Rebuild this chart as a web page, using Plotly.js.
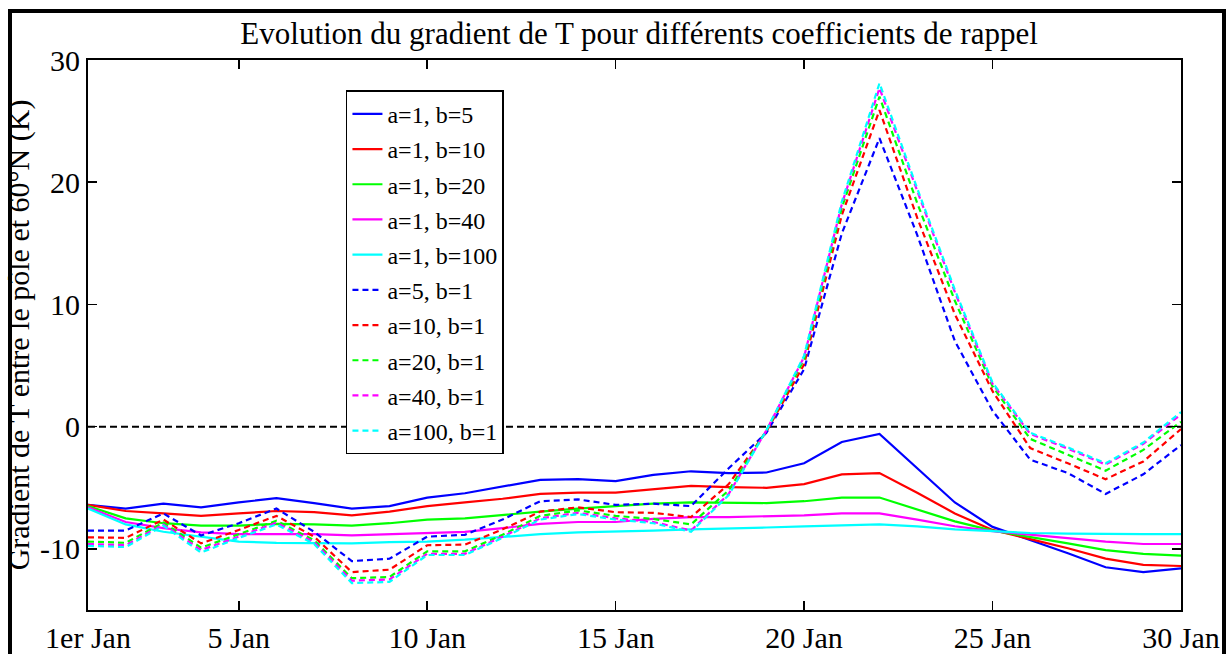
<!DOCTYPE html>
<html>
<head>
<meta charset="utf-8">
<script src="https://cdn.plot.ly/plotly-3.0.1.min.js"></script>
<style>
html,body{margin:0;padding:0;background:#fff;}
#chart{width:1229px;height:654px;}
</style>
</head>
<body>
<div id="chart"></div>
<script>
// Days of January
const days = [1,2,3,4,5,6,7,8,9,10,11,12,13,14,15,16,17,18,19,20,21,22,23,24,25,26,27,28,29,30];

// Solid series (a=1, b varies)
const a1b5   = [-6.4,-6.7,-6.3,-6.6,-6.2,-5.85,-6.25,-6.7,-6.5,-5.8,-5.45,-4.9,-4.35,-4.3,-4.45,-3.95,-3.65,-3.8,-3.75,-3.0,-1.25,-0.6,-3.4,-6.2,-8.2,-9.25,-10.35,-11.5,-11.9,-11.6];
const a1b10  = [-6.4,-6.9,-7.1,-7.3,-7.1,-6.9,-7.0,-7.25,-6.95,-6.5,-6.2,-5.9,-5.5,-5.4,-5.4,-5.1,-4.85,-4.95,-5.0,-4.7,-3.9,-3.8,-5.4,-7.1,-8.45,-9.2,-9.95,-10.8,-11.3,-11.4];
const a1b20  = [-6.5,-7.5,-7.9,-8.1,-8.1,-7.95,-8.0,-8.1,-7.9,-7.6,-7.5,-7.2,-6.95,-6.7,-6.5,-6.3,-6.2,-6.25,-6.25,-6.1,-5.8,-5.8,-6.8,-7.75,-8.5,-9.0,-9.55,-10.1,-10.4,-10.55];
const a1b40  = [-6.6,-7.8,-8.3,-8.65,-8.8,-8.8,-8.8,-8.9,-8.8,-8.65,-8.6,-8.3,-7.95,-7.8,-7.8,-7.55,-7.4,-7.4,-7.35,-7.25,-7.1,-7.1,-7.6,-8.15,-8.55,-8.85,-9.1,-9.4,-9.6,-9.6];
const a1b100 = [-6.7,-8.0,-8.6,-9.0,-9.4,-9.5,-9.55,-9.55,-9.45,-9.4,-9.25,-9.0,-8.8,-8.65,-8.6,-8.5,-8.4,-8.35,-8.25,-8.15,-8.05,-8.0,-8.15,-8.4,-8.55,-8.7,-8.75,-8.8,-8.8,-8.8];

// Dashed series (a varies, b=1)
const a5b1   = [-8.5,-8.5,-7.1,-8.9,-7.9,-6.7,-8.6,-11.0,-10.8,-9.0,-8.85,-7.6,-6.1,-5.95,-6.4,-6.3,-6.5,-3.4,-0.5,4.7,15.8,23.6,15.7,7.0,1.3,-2.7,-3.8,-5.5,-3.9,-1.5];
const a10b1  = [-9.05,-9.1,-7.6,-9.55,-8.45,-7.3,-9.0,-11.9,-11.7,-9.7,-9.65,-8.4,-6.95,-6.6,-7.0,-7.05,-7.4,-4.7,-0.4,5.1,17.3,25.9,17.1,9.2,2.9,-1.75,-3.0,-4.3,-2.85,-0.2];
const a20b1  = [-9.4,-9.5,-7.85,-9.9,-8.8,-7.7,-9.3,-12.4,-12.3,-10.2,-10.2,-8.85,-7.3,-6.85,-7.3,-7.55,-8.0,-5.2,-0.3,5.5,17.9,27.0,18.3,10.3,3.3,-1.0,-2.3,-3.6,-1.9,0.4];
const a40b1  = [-9.6,-9.7,-8.0,-10.1,-9.0,-7.85,-9.45,-12.6,-12.5,-10.4,-10.4,-9.0,-7.5,-7.05,-7.5,-7.8,-8.5,-5.5,-0.3,5.7,18.2,27.7,19.3,11.0,3.5,-0.6,-1.8,-3.1,-1.4,1.0];
const a100b1 = [-9.75,-9.85,-8.1,-10.3,-9.1,-8.0,-9.6,-12.8,-12.7,-10.5,-10.5,-9.1,-7.6,-7.15,-7.6,-7.9,-8.6,-5.6,-0.3,5.8,18.4,28.1,19.5,11.2,3.6,-0.5,-1.7,-3.0,-1.3,1.2];

// Reference zero line
const zeroX = [1,30];
const zeroY = [0,0];

// Legend names
const names = ['a=1, b=5','a=1, b=10','a=1, b=20','a=1, b=40','a=1, b=100',
               'a=5, b=1','a=10, b=1','a=20, b=1','a=40, b=1','a=100, b=1'];
const series = [a1b5,a1b10,a1b20,a1b40,a1b100,a5b1,a10b1,a20b1,a40b1,a100b1];
const colors = ['#0000ff','#ff0000','#00ff00','#ff00ff','#00ffff'];

// Tick labels
const xTickVals = [1,5,10,15,20,25,30];
const xTickText = ['1er Jan','5 Jan','10 Jan','15 Jan','20 Jan','25 Jan','30 Jan'];
const yTickVals = [-10,0,10,20,30];
const yTickText = ['-10','0','10','20','30'];

const FONT = '"Liberation Serif","Times New Roman",serif';

const traces = [];
traces.push({
  x: zeroX, y: zeroY, mode: 'lines', showlegend: false, hoverinfo: 'skip',
  line: {color: '#000', width: 2, dash: '7px,4px'}
});
series.forEach((s, i) => {
  traces.push({
    x: days, y: s, mode: 'lines', name: names[i], legendgroup: 'g' + i,
    line: {color: colors[i % 5], width: 2.2, dash: i < 5 ? 'solid' : '6px,4px'}
  });
});

const layout = {
  width: 1229, height: 654,
  margin: {l: 88, r: 48, t: 60, b: 44},
  paper_bgcolor: '#fff', plot_bgcolor: '#fff',
  font: {family: FONT, color: '#000'},
  title: {
    text: 'Evolution du gradient de T pour différents coefficients de rappel',
    font: {family: FONT, size: 31, color: '#000'},
    x: 0.52, xanchor: 'center', y: 0.95, yanchor: 'middle'
  },
  xaxis: {
    range: [1, 30], tickvals: xTickVals, ticktext: xTickText,
    ticks: 'inside', ticklen: 9, tickwidth: 1.5, tickcolor: '#000',
    showline: true, linecolor: '#000', linewidth: 2, mirror: 'ticks',
    showgrid: false, zeroline: false,
    tickfont: {family: FONT, size: 30, color: '#000'}
  },
  yaxis: {
    range: [-15, 30], tickvals: yTickVals, ticktext: yTickText,
    ticks: 'inside', ticklen: 9, tickwidth: 1.5, tickcolor: '#000',
    showline: true, linecolor: '#000', linewidth: 2, mirror: 'ticks',
    showgrid: false, zeroline: false,
    tickfont: {family: FONT, size: 30, color: '#000'},
    title: {text: 'Gradient de T entre le pôle et 60°N (K)', font: {family: FONT, size: 30, color: '#000'}, standoff: 2}
  },
  legend: {
    x: 0.236, y: 0.945, xanchor: 'left', yanchor: 'top',
    bgcolor: '#fff', bordercolor: '#000', borderwidth: 1.5,
    font: {family: FONT, size: 24, color: '#000'},
    traceorder: 'grouped', tracegroupgap: 1, itemwidth: 30
  },
  shapes: [{
    type: 'rect', xref: 'paper', yref: 'paper',
    x0: (10 - 88) / 1093, x1: (1224 - 88) / 1093,
    y0: (610 - 700) / 550, y1: (610 - 11) / 550,
    line: {color: '#000', width: 4}, fillcolor: 'rgba(0,0,0,0)', layer: 'above'
  }],
  showlegend: true
};

Plotly.newPlot('chart', traces, layout, {displayModeBar: false, staticPlot: true});
</script>
</body>
</html>
